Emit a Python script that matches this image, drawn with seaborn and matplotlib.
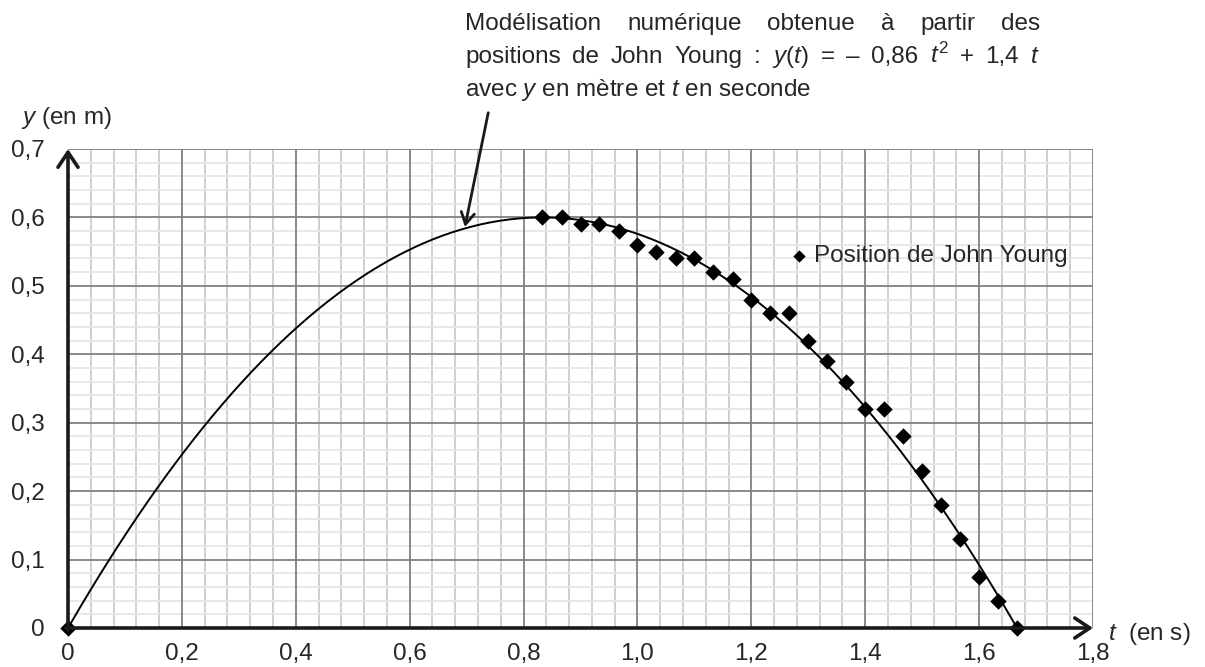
import numpy as np
import pandas as pd
import matplotlib
matplotlib.use("Agg")
import matplotlib.pyplot as plt
import seaborn as sns
from matplotlib.ticker import MultipleLocator, FuncFormatter

# positions relevées (t en s, y en m)
t_mes = [0, 0.833, 0.867, 0.900, 0.933, 0.967, 1.000, 1.033, 1.067, 1.100,
         1.133, 1.167, 1.200, 1.233, 1.267, 1.300, 1.333, 1.367, 1.400,
         1.433, 1.467, 1.500, 1.533, 1.567, 1.600, 1.633, 1.667]
y_mes = [0, 0.60, 0.60, 0.59, 0.59, 0.58, 0.56, 0.55, 0.54, 0.54,
         0.52, 0.51, 0.48, 0.46, 0.46, 0.42, 0.39, 0.36, 0.32,
         0.32, 0.28, 0.23, 0.18, 0.13, 0.075, 0.04, 0.0]

# modèle tracé : y = a t^2 + b t
coef_modele = [-0.864, 1.44, 0.0]
t_fin_modele = 1.667

x_ticks = [0, 0.2, 0.4, 0.6, 0.8, 1.0, 1.2, 1.4, 1.6, 1.8]
y_ticks = [0, 0.1, 0.2, 0.3, 0.4, 0.5, 0.6, 0.7]

W, H = 1205, 667
FS = 17.5

sns.set_theme(style="white")
plt.rcParams['font.family'] = ['Liberation Sans', 'DejaVu Sans']
plt.rcParams['mathtext.fontset'] = 'custom'
plt.rcParams['mathtext.rm'] = 'Liberation Sans'
plt.rcParams['mathtext.it'] = 'Liberation Sans:italic'

fig = plt.figure(figsize=(W / 100, H / 100), dpi=100)
ax = fig.add_axes([68 / W, 1 - 628 / H, (1093 - 68) / W, (628 - 149) / H])

# courbe du modèle
t_c = np.linspace(0, t_fin_modele, 300)
df_mod = pd.DataFrame({'t': t_c, 'y': np.polyval(coef_modele, t_c)})
sns.lineplot(data=df_mod, x='t', y='y', color='black', lw=1.4, ax=ax,
             zorder=3, clip_on=False)

# points
df = pd.DataFrame({'t': t_mes, 'y': y_mes})
sns.scatterplot(data=df, x='t', y='y', marker='D', color='black', s=70,
                edgecolor='black', linewidth=0, ax=ax, zorder=4,
                clip_on=False, label='Position de John Young')

ax.set_xlim(0, 1.8)
ax.set_ylim(0, 0.7)
ax.set_xticks(x_ticks)
ax.set_yticks(y_ticks)
ax.xaxis.set_minor_locator(MultipleLocator(0.04))
ax.yaxis.set_minor_locator(MultipleLocator(0.02))
fmt = FuncFormatter(lambda v, p: "0" if abs(v) < 1e-9 else f"{v:.1f}".replace('.', ','))
ax.xaxis.set_major_formatter(fmt)
ax.yaxis.set_major_formatter(fmt)

# quadrillage : fin en dessous, principal par-dessus
ax.set_axisbelow(True)
ax.grid(which='minor', axis='y', color='#e6e6e6', lw=1.3)
ax.grid(which='minor', axis='x', color='#d0d0d0', lw=1.4)
ax.grid(which='major', visible=False)
for xv in x_ticks[1:]:
    ax.axvline(xv, color='#808080', lw=1.3, zorder=1)
for yv in y_ticks[1:]:
    ax.axhline(yv, color='#808080', lw=1.3, zorder=1)

ax.tick_params(which='minor', length=0)
ax.tick_params(axis='x', which='major', direction='out', length=6, width=1.5,
               color='#222222', labelsize=FS, pad=5)
ax.tick_params(axis='y', which='major', direction='out', length=6, width=1.5,
               color='#222222', labelsize=FS, pad=11)
for s in ax.spines.values():
    s.set_visible(False)
ax.set_xlabel('')
ax.set_ylabel('')

# axes fléchés
fleche = dict(arrowstyle='->,head_length=0.9,head_width=0.6', lw=2.6,
              color='#1a1a1a', shrinkA=0, shrinkB=0)
ax.annotate('', xy=(1.8, 0), xytext=(-0.004, 0), arrowprops=fleche,
            annotation_clip=False, zorder=5)
ax.annotate('', xy=(0, 0.7), xytext=(0, -0.003), arrowprops=fleche,
            annotation_clip=False, zorder=5)

# flèche vers la courbe
ax.annotate('', xy=(0.697, 0.586), xytext=(0.738, 0.753),
            arrowprops=dict(arrowstyle='->,head_length=0.7,head_width=0.4',
                            lw=2, color='#1a1a1a', shrinkA=0, shrinkB=0),
            annotation_clip=False, zorder=5)

ax.legend(loc='center left', bbox_to_anchor=(793 / W, 1 - 256 / H),
          bbox_transform=fig.transFigure, frameon=False, fontsize=FS,
          handlelength=0.5, handletextpad=0.35, markerscale=0.75,
          borderpad=0, borderaxespad=0)

# texte du modèle (deux premières lignes justifiées)
renderer = fig.canvas.get_renderer()


def ligne_justifiee(mots, x0, x1, y):
    larg = []
    for m in mots:
        tx = fig.text(0, 0, m, fontsize=FS)
        larg.append(tx.get_window_extent(renderer).width)
        tx.remove()
    ecart = (x1 - x0 - sum(larg)) / (len(mots) - 1)
    x = x0
    for m, wd in zip(mots, larg):
        fig.text(x / W, 1 - y / H, m, fontsize=FS, va='baseline')
        x += wd + ecart


x0, x1 = 465, 1040
ligne_justifiee("Modélisation numérique obtenue à partir des".split(), x0, x1, 30)
ligne_justifiee(["positions", "de", "John", "Young", ":",
                 r"$\mathit{y}$($\mathit{t}$)", "=", "–", "0,86",
                 r"$\mathit{t}^{2}$", "+", "1,4", r"$\mathit{t}$"], x0, x1, 63)
fig.text(x0 / W, 1 - 96 / H,
         r"avec $\mathit{y}$ en mètre et $\mathit{t}$ en seconde",
         fontsize=FS, va='baseline')

fig.text(21 / W, 1 - 118 / H, r"$\mathit{y}$ (en m)", fontsize=FS, va='center')
fig.text(1108 / W, 1 - 634 / H, r"$\mathit{t}$  (en s)", fontsize=FS, va='center')

fig.savefig("out.png", dpi=100)
